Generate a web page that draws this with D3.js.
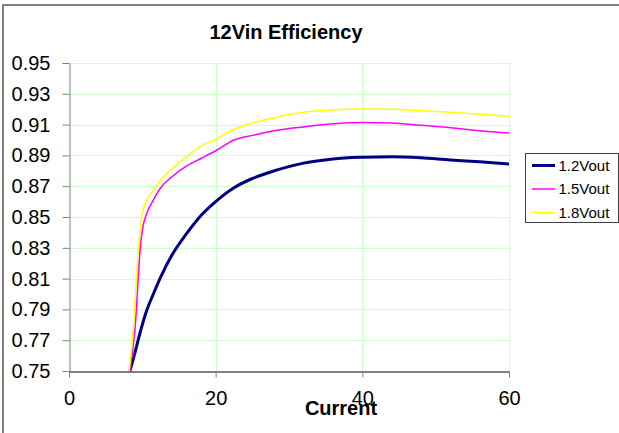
<!DOCTYPE html>
<html>
<head>
<meta charset="utf-8">
<script src="https://cdn.jsdelivr.net/npm/d3@7"></script>
<style>
  html, body { margin: 0; padding: 0; background: #fff; }
  svg { display: block; font-family: Arial, "Liberation Sans", sans-serif; }
</style>
</head>
<body>
<svg id="chart" width="619" height="433"></svg>
<script>
// ---- data ----
const chartTitle = "12Vin Efficiency";
const xTitle = "Current";
const seriesNames = ["1.2Vout", "1.5Vout", "1.8Vout"];
const current12 = [8.3, 9, 9.7, 10.5, 11.5, 12.5, 14, 16, 18, 20, 22.5, 25, 28, 32, 36, 40, 44, 48, 52, 56, 60];
const eff12 = [0.75, 0.762, 0.775, 0.788, 0.800, 0.811, 0.825, 0.839, 0.851, 0.860, 0.869, 0.875, 0.880, 0.885, 0.8877, 0.8888, 0.8892, 0.8885, 0.8870, 0.8858, 0.8844];
const current15 = [8.3, 9, 9.7, 10.1, 10.5, 11.5, 12.5, 14, 16, 18, 20, 22.5, 25, 28, 32, 36, 40, 44, 48, 52, 56, 60];
const eff15 = [0.75, 0.777, 0.829, 0.844, 0.851, 0.861, 0.869, 0.876, 0.883, 0.888, 0.893, 0.900, 0.903, 0.906, 0.9085, 0.9105, 0.9113, 0.911, 0.9095, 0.908, 0.906, 0.9045];
const current18 = [8.2, 8.8, 9.45, 9.9, 10.6, 11.5, 12.5, 14, 16, 18, 20, 22.5, 25, 28, 32, 36, 40, 44, 48, 52, 56, 60];
const eff18 = [0.75, 0.779, 0.829, 0.850, 0.861, 0.867, 0.874, 0.881, 0.889, 0.896, 0.9005, 0.907, 0.911, 0.9145, 0.918, 0.9195, 0.9201, 0.920, 0.919, 0.918, 0.9168, 0.9155];
const xTicks = [0, 20, 40, 60];
const yTicks = [0.75, 0.77, 0.79, 0.81, 0.83, 0.85, 0.87, 0.89, 0.91, 0.93, 0.95];
const seriesColors = ["#000080", "#ff00ff", "#ffff00"];
const seriesWidths = [3, 1.5, 1.5];

const series = [
  { name: seriesNames[0], xs: current12, ys: eff12 },
  { name: seriesNames[1], xs: current15, ys: eff15 },
  { name: seriesNames[2], xs: current18, ys: eff18 }
];

// ---- layout ----
const svg = d3.select("#chart");
const x = d3.scaleLinear().domain([0, 60]).range([69, 509]);
const y = d3.scaleLinear().domain([0.75, 0.95]).range([371, 63]);

// outer frame (top & left visible)
svg.append("line").attr("x1", 3).attr("x2", 619).attr("y1", 5).attr("y2", 5)
  .attr("stroke", "#808080").attr("stroke-width", 2);
svg.append("line").attr("x1", 3).attr("x2", 3).attr("y1", 4).attr("y2", 433)
  .attr("stroke", "#808080").attr("stroke-width", 2);

// gridlines
const grid = svg.append("g");
grid.selectAll(".hg").data(yTicks.filter(d => d > 0.75)).join("line")
  .attr("x1", x(0)).attr("x2", x(60))
  .attr("y1", d => Math.round(y(d)) + 0.5).attr("y2", d => Math.round(y(d)) + 0.5)
  .attr("stroke", "#ccffcc").attr("stroke-width", 1);
grid.selectAll(".vg").data(xTicks.filter(d => d > 0)).join("line")
  .attr("x1", d => Math.round(x(d)) + 0.5).attr("x2", d => Math.round(x(d)) + 0.5)
  .attr("y1", y(0.95)).attr("y2", y(0.75))
  .attr("stroke", "#ccffcc").attr("stroke-width", 1);

// axes
const yAxis = svg.append("g").attr("transform", `translate(${x(0) + 0.5},0)`)
  .call(d3.axisLeft(y).tickValues(yTicks).tickFormat(d3.format(".2f")).tickSize(7).tickSizeOuter(0).tickPadding(12));
yAxis.select(".domain").attr("stroke", "#808080");
yAxis.selectAll(".tick line").attr("stroke", "#808080");
yAxis.selectAll("text").attr("font-size", 20).attr("fill", "#000").attr("font-family", "Arial, 'Liberation Sans', sans-serif");

const xAxis = svg.append("g").attr("transform", `translate(0,${y(0.75) + 0.5})`)
  .call(d3.axisBottom(x).tickValues(xTicks).tickSize(6).tickSizeOuter(0).tickPadding(13));
xAxis.select(".domain").attr("stroke", "#000");
xAxis.selectAll(".tick line").attr("stroke", "#808080");
xAxis.selectAll("text").attr("font-size", 20).attr("fill", "#000").attr("font-family", "Arial, 'Liberation Sans', sans-serif");

// lines
const line = d3.line().x(d => x(d[0])).y(d => y(d[1])).curve(d3.curveMonotoneX);
svg.append("g").selectAll("path").data(series).join("path")
  .attr("d", s => line(s.xs.map((v, i) => [v, s.ys[i]])))
  .attr("fill", "none")
  .attr("stroke", (s, i) => seriesColors[i])
  .attr("stroke-width", (s, i) => seriesWidths[i])
  .attr("stroke-linejoin", "round");

// titles
svg.append("text").attr("x", 286).attr("y", 38.5).attr("text-anchor", "middle")
  .attr("font-size", 20).attr("font-weight", "bold").text(chartTitle);
svg.append("text").attr("x", 341).attr("y", 415).attr("text-anchor", "middle")
  .attr("font-size", 20).attr("font-weight", "bold").text(xTitle);

// legend
const lg = svg.append("g");
lg.append("rect").attr("x", 525.5).attr("y", 153.5).attr("width", 93).attr("height", 69)
  .attr("fill", "#fff").attr("stroke", "#404040").attr("stroke-width", 1);
const rowsY = [165.5, 189, 212.5];
series.forEach((s, i) => {
  lg.append("line").attr("x1", 532).attr("x2", 555).attr("y1", rowsY[i]).attr("y2", rowsY[i])
    .attr("stroke", seriesColors[i]).attr("stroke-width", seriesWidths[i]);
  lg.append("text").attr("x", 558.5).attr("y", rowsY[i]).attr("dy", "0.36em")
    .attr("font-size", 15).attr("fill", "#000").text(s.name);
});
</script>
</body>
</html>
